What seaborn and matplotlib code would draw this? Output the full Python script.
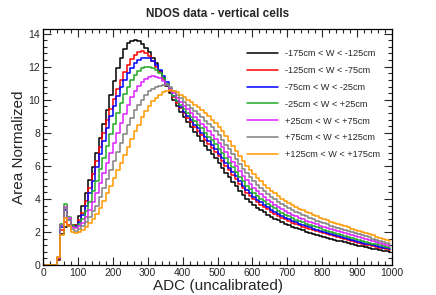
import numpy as np
import pandas as pd
import matplotlib
matplotlib.use('Agg')
import matplotlib.pyplot as plt
import seaborn as sns
from matplotlib.ticker import MultipleLocator

# 10 ADC bins from 0 to 1000
bin_edges = np.arange(0, 1001, 10)
adc = (bin_edges[:-1] + bin_edges[1:]) / 2

labels = ['-175cm < W < -125cm', '-125cm < W < -75cm', '-75cm < W < -25cm',
          '-25cm < W < +25cm', '+25cm < W < +75cm', '+75cm < W < +125cm',
          '+125cm < W < +175cm']
colors = ['#000000', '#ff0000', '#0000ff', '#22aa22', '#dd22ff', '#808080', '#ff9900']

black = [
    0, 0, 0, 0, 0.3, 1.9, 2.3, 2.35, 2.35, 2.45,
    2.95, 3.6, 4.35, 5.15, 5.95, 6.8, 7.7, 8.55, 9.4, 10.3,
    11.15, 11.9, 12.55, 13.05, 13.45, 13.55, 13.62, 13.55, 13.4, 13.15,
    12.9, 12.55, 12.2, 11.75, 11.3, 10.85, 10.4, 10.0, 9.6, 9.25,
    8.95, 8.65, 8.35, 8.05, 7.8, 7.5, 7.2, 6.95, 6.7, 6.45,
    6.15, 5.85, 5.55, 5.3, 5.05, 4.8, 4.5, 4.25, 4.0, 3.8,
    3.62, 3.47, 3.32, 3.18, 3.05, 2.93, 2.81, 2.7, 2.6, 2.5,
    2.41, 2.32, 2.24, 2.16, 2.09, 2.02, 1.95, 1.89, 1.83, 1.77,
    1.71, 1.65, 1.59, 1.54, 1.48, 1.43, 1.38, 1.33, 1.28, 1.23,
    1.17, 1.12, 1.07, 1.02, 0.98, 0.94, 0.9, 0.86, 0.82, 0.78]

red = [
    0, 0, 0, 0, 0.35, 2.1, 2.6, 2.45, 2.4, 2.42,
    2.7, 3.15, 3.85, 4.65, 5.5, 6.3, 7.15, 8.0, 8.75, 9.45,
    10.05, 10.65, 11.2, 11.7, 12.1, 12.45, 12.7, 12.87, 12.93, 12.85,
    12.65, 12.35, 12.0, 11.65, 11.25, 10.88, 10.5, 10.15, 9.8, 9.48,
    9.18, 8.91, 8.64, 8.36, 8.13, 7.86, 7.58, 7.34, 7.1, 6.86,
    6.57, 6.28, 5.98, 5.72, 5.46, 5.2, 4.9, 4.64, 4.38, 4.17,
    3.98, 3.81, 3.65, 3.5, 3.36, 3.23, 3.1, 2.98, 2.87, 2.76,
    2.66, 2.57, 2.48, 2.4, 2.32, 2.25, 2.17, 2.11, 2.04, 1.98,
    1.92, 1.85, 1.79, 1.73, 1.67, 1.62, 1.56, 1.51, 1.45, 1.4,
    1.34, 1.29, 1.23, 1.18, 1.13, 1.09, 1.04, 1.0, 0.95, 0.91]

blue = [
    0, 0, 0, 0, 0.4, 2.3, 3.3, 2.7, 2.38, 2.36,
    2.6, 3.0, 3.6, 4.35, 5.1, 5.9, 6.7, 7.5, 8.3, 9.0,
    9.65, 10.2, 10.75, 11.2, 11.6, 11.95, 12.2, 12.4, 12.5, 12.55,
    12.5, 12.35, 12.1, 11.8, 11.45, 11.05, 10.65, 10.25, 9.9, 9.55,
    9.27, 9.01, 8.76, 8.5, 8.27, 8.01, 7.74, 7.5, 7.27, 7.03,
    6.74, 6.46, 6.16, 5.89, 5.63, 5.37, 5.07, 4.8, 4.54, 4.33,
    4.13, 3.96, 3.79, 3.64, 3.49, 3.35, 3.22, 3.1, 2.98, 2.87,
    2.77, 2.67, 2.59, 2.5, 2.42, 2.34, 2.27, 2.2, 2.13, 2.07,
    2.0, 1.94, 1.87, 1.81, 1.75, 1.69, 1.64, 1.58, 1.53, 1.48,
    1.42, 1.36, 1.3, 1.25, 1.2, 1.15, 1.1, 1.05, 1.01, 0.96]

green = [
    0, 0, 0, 0, 0.45, 2.5, 3.7, 2.9, 2.4, 2.32,
    2.5, 2.8, 3.25, 3.8, 4.45, 5.1, 5.8, 6.5, 7.2, 7.9,
    8.55, 9.2, 9.8, 10.35, 10.8, 11.2, 11.5, 11.75, 11.9, 11.98,
    12.0, 11.95, 11.8, 11.6, 11.3, 10.95, 10.6, 10.25, 9.95, 9.7,
    9.43, 9.19, 8.95, 8.71, 8.5, 8.26, 8.0, 7.77, 7.54, 7.31,
    7.03, 6.75, 6.45, 6.18, 5.91, 5.64, 5.34, 5.07, 4.8, 4.58,
    4.37, 4.19, 4.02, 3.86, 3.7, 3.56, 3.42, 3.29, 3.17, 3.05,
    2.95, 2.84, 2.75, 2.66, 2.58, 2.5, 2.42, 2.35, 2.28, 2.21,
    2.14, 2.07, 2.01, 1.94, 1.88, 1.82, 1.76, 1.71, 1.65, 1.59,
    1.53, 1.47, 1.41, 1.36, 1.3, 1.25, 1.2, 1.15, 1.1, 1.05]

magenta = [
    0, 0, 0, 0, 0.45, 2.45, 3.5, 2.85, 2.3, 2.22,
    2.35, 2.55, 2.9, 3.3, 3.8, 4.35, 4.95, 5.55, 6.15, 6.75,
    7.4, 8.0, 8.6, 9.15, 9.7, 10.15, 10.55, 10.85, 11.1, 11.28,
    11.38, 11.43, 11.4, 11.3, 11.12, 10.9, 10.65, 10.4, 10.12, 9.86,
    9.62, 9.41, 9.19, 8.97, 8.78, 8.56, 8.32, 8.1, 7.88, 7.65,
    7.38, 7.11, 6.81, 6.53, 6.25, 5.98, 5.68, 5.4, 5.12, 4.89,
    4.67, 4.48, 4.3, 4.13, 3.96, 3.81, 3.66, 3.52, 3.4, 3.27,
    3.16, 3.05, 2.96, 2.86, 2.77, 2.69, 2.61, 2.53, 2.46, 2.39,
    2.31, 2.24, 2.17, 2.11, 2.04, 1.98, 1.92, 1.86, 1.8, 1.74,
    1.68, 1.61, 1.55, 1.49, 1.43, 1.38, 1.32, 1.26, 1.21, 1.16]

gray = [
    0, 0, 0, 0, 0.5, 2.4, 3.45, 2.7, 2.2, 2.08,
    2.2, 2.35, 2.6, 2.9, 3.25, 3.6, 4.1, 4.65, 5.2, 5.75,
    6.3, 6.85, 7.4, 7.95, 8.45, 8.9, 9.35, 9.7, 10.0, 10.3,
    10.5, 10.65, 10.78, 10.85, 10.9, 10.88, 10.75, 10.55, 10.3, 10.1,
    9.87, 9.69, 9.51, 9.32, 9.15, 8.96, 8.74, 8.53, 8.32, 8.11,
    7.84, 7.58, 7.28, 6.99, 6.71, 6.42, 6.12, 5.83, 5.54, 5.3,
    5.07, 4.86, 4.67, 4.48, 4.31, 4.14, 3.98, 3.83, 3.69, 3.56,
    3.44, 3.33, 3.23, 3.12, 3.03, 2.94, 2.85, 2.77, 2.69, 2.62,
    2.54, 2.47, 2.39, 2.32, 2.25, 2.18, 2.12, 2.05, 1.99, 1.93,
    1.87, 1.8, 1.73, 1.67, 1.6, 1.54, 1.48, 1.41, 1.36, 1.3]

orange = [
    0, 0, 0, 0, 0.5, 1.8, 2.85, 2.35, 2.0, 1.92,
    1.98, 2.1, 2.3, 2.55, 2.8, 3.1, 3.42, 3.86, 4.33, 4.8,
    5.27, 5.74, 6.2, 6.67, 7.15, 7.6, 8.1, 8.5, 8.95, 9.3,
    9.6, 9.9, 10.1, 10.3, 10.45, 10.55, 10.6, 10.55, 10.45, 10.3,
    10.15, 10.0, 9.85, 9.7, 9.55, 9.4, 9.2, 9.0, 8.8, 8.6,
    8.35, 8.1, 7.8, 7.5, 7.2, 6.9, 6.6, 6.3, 6.0, 5.75,
    5.5, 5.28, 5.07, 4.87, 4.68, 4.5, 4.33, 4.17, 4.02, 3.88,
    3.75, 3.63, 3.52, 3.41, 3.31, 3.21, 3.12, 3.03, 2.95, 2.87,
    2.79, 2.71, 2.63, 2.55, 2.48, 2.41, 2.34, 2.27, 2.2, 2.14,
    2.08, 2.0, 1.93, 1.86, 1.79, 1.72, 1.65, 1.58, 1.52, 1.46]

series = [black, red, blue, green, magenta, gray, orange]
df = pd.concat([pd.DataFrame({'adc': adc, 'area': s, 'range': lab})
                for s, lab in zip(series, labels)], ignore_index=True)

sns.set_theme(style='ticks')
plt.rcParams['font.family'] = ['Liberation Sans', 'DejaVu Sans']

fig = plt.figure(figsize=(4.36, 2.95), dpi=100)
ax = fig.add_axes([43 / 436, 1 - 265 / 295, 349 / 436, 236 / 295])

sns.lineplot(data=df, x='adc', y='area', hue='range', hue_order=labels,
             palette=colors, drawstyle='steps-mid', lw=1.1, ax=ax)

ax.set_xlim(0, 1000)
ax.set_ylim(0, 14.28)
ax.xaxis.set_major_locator(MultipleLocator(100))
ax.xaxis.set_minor_locator(MultipleLocator(20))
ax.yaxis.set_major_locator(MultipleLocator(2))
ax.yaxis.set_minor_locator(MultipleLocator(0.4))
ax.tick_params(which='both', direction='in', top=True, right=True,
               labelsize=7.5, width=0.8, pad=2)
ax.tick_params(which='major', length=5.5)
ax.tick_params(which='minor', length=2.8)
for sp in ax.spines.values():
    sp.set_linewidth(0.9)
    sp.set_color('black')

ax.set_xlabel('ADC (uncalibrated)', fontsize=11)
ax.set_ylabel('Area Normalized', fontsize=11)
ax.xaxis.set_label_coords(0.5, -0.058)
ax.yaxis.set_label_coords(-0.05, 0.5)

handles, labs = ax.get_legend_handles_labels()
ax.legend(handles, labs, loc='upper left', bbox_to_anchor=(247 / 436, 1 - 49 / 295),
          bbox_transform=fig.transFigure, frameon=False, fontsize=6.6,
          handlelength=3.4, handletextpad=0.7, labelspacing=0.86,
          borderpad=0, borderaxespad=0)

fig.text(0.5, 1 - 14 / 295, 'NDOS data - vertical cells', ha='center', va='center',
         fontsize=8.5, fontweight='bold')

fig.savefig('out.png', dpi=100)
